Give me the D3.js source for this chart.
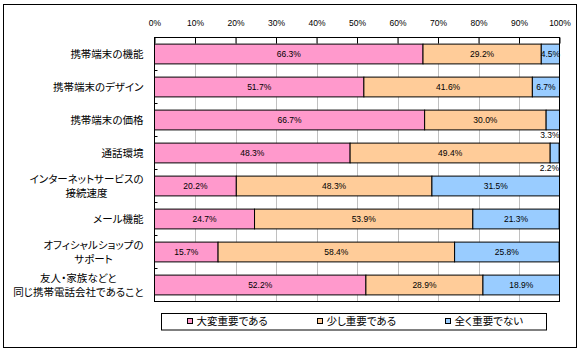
<!DOCTYPE html>
<html><head><meta charset="utf-8">
<script src="https://cdn.jsdelivr.net/npm/d3@7"></script>
<style>
body{margin:0;background:#fff;}
svg{display:block;}
.cjk{font-family:"Noto Sans CJK JP","Noto Sans",sans-serif;font-feature-settings:"palt";}
.num{font-family:"Liberation Sans",Arial,sans-serif;}
</style></head>
<body>
<svg id="c" width="584" height="354"></svg>
<script>
const categories = ["携帯端末の機能","携帯端末のデザイン","携帯端末の価格","通話環境","インターネットサービスの\n接続速度","メール機能","オフィシャルショップの\nサポート","友人・家族などと\n同じ携帯電話会社であること"];
const seriesNames = ["大変重要である","少し重要である","全く重要でない"];
const veryImportant = [66.3,51.7,66.7,48.3,20.2,24.7,15.7,52.2];
const somewhatImportant = [29.2,41.6,30.0,49.4,48.3,53.9,58.4,28.9];
const notImportant = [4.5,6.7,3.3,2.2,31.5,21.3,25.8,18.9];
const tickValues = [0,10,20,30,40,50,60,70,80,90,100];
const colors = ["#FF99CC","#FFCC99","#99CCFF"];

const svg = d3.select("#c");
svg.append("rect").attr("x",3.5).attr("y",4.5).attr("width",573).attr("height",343)
  .attr("fill","#fff").attr("stroke","#000").attr("stroke-width",1);

const x = d3.scaleLinear().domain([0,100]).range([154.5,559.5]);
const y = d3.scaleBand().domain(d3.range(categories.length)).range([37.5,301.5]).paddingInner(0.4).paddingOuter(0.2);

// gridlines
svg.append("g").selectAll("line").data(tickValues.slice(1,-1)).join("line")
  .attr("x1",d=>Math.round(x(d))+0.5).attr("x2",d=>Math.round(x(d))+0.5)
  .attr("y1",y.range()[0]).attr("y2",y.range()[1])
  .attr("stroke","#c0c0c0").attr("stroke-width",1);

// stacked data
const series = [veryImportant,somewhatImportant,notImportant];
const rows = categories.map((c,i)=>{const r={}; series.forEach((s,k)=>r[k]=s[i]); return r;});
const stack = d3.stack().keys([0,1,2])(rows);

const g = svg.append("g");
stack.forEach((layer,k)=>{
  g.selectAll(null).data(layer).join("rect")
    .attr("x",d=>x(d[0])).attr("width",d=>x(d[1])-x(d[0]))
    .attr("y",(d,i)=>y(i)).attr("height",y.bandwidth())
    .attr("fill",colors[k]).attr("stroke","#000").attr("stroke-width",1);
});

// value labels
stack.forEach((layer,k)=>{
  layer.forEach((d,i)=>{
    const v = series[k][i];
    const small = v < 4;
    svg.append("text").attr("class","num")
      .attr("x", small ? x(d[1]) : (x(d[0])+x(d[1]))/2)
      .attr("y", small ? y(i)+y.bandwidth()+5.5 : y(i)+y.bandwidth()/2)
      .attr("dy","0.35em")
      .attr("text-anchor", small ? "end" : "middle")
      .attr("font-size","8.5px").attr("fill","#000")
      .text(v.toFixed(1)+"%");
  });
});

// plot frame
svg.append("rect").attr("x",x(0)).attr("y",y.range()[0]).attr("width",x(100)-x(0))
  .attr("height",y.range()[1]-y.range()[0]).attr("fill","none").attr("stroke","#000").attr("stroke-width",1);

// top axis
const ax = svg.append("g").attr("transform",`translate(0,${y.range()[0]})`)
  .call(d3.axisTop(x).tickValues(tickValues).tickFormat(d=>d+"%").tickSizeInner(-6).tickSizeOuter(0).tickPadding(12));
ax.select(".domain").remove();
ax.selectAll("line").attr("stroke","#000");
ax.selectAll("text").attr("class","num").attr("font-size","8.5px").attr("font-family",null).attr("fill","#000");

// left ticks at band boundaries
svg.append("g").selectAll("line").data(d3.range(1,categories.length)).join("line")
  .attr("x1",x(0)).attr("x2",x(0)+3)
  .attr("y1",i=>y.range()[0]+i*y.step()).attr("y2",i=>y.range()[0]+i*y.step())
  .attr("stroke","#000");

// category labels
categories.forEach((c,i)=>{
  const lines = c.split("\n");
  const t = svg.append("text").attr("class","cjk").attr("font-size","10.5px").attr("fill","#000");
  const cy = y(i)+y.bandwidth()/2;
  const lh = 14;
  lines.forEach((l,j)=>{
    t.append("tspan").attr("y", cy + (j-(lines.length-1)/2)*lh).attr("dy","0.35em").text(l);
  });
  let maxW = 0;
  t.selectAll("tspan").each(function(){maxW=Math.max(maxW,this.getComputedTextLength());});
  t.attr("text-anchor","middle");
  t.selectAll("tspan").attr("x", 143.5 - maxW/2);
});

// legend
svg.append("rect").attr("x",161.5).attr("y",313.5).attr("width",385).attr("height",16.5)
  .attr("fill","#fff").attr("stroke","#000");
const legX = [187.5,317.5,445.5];
seriesNames.forEach((n,k)=>{
  svg.append("rect").attr("x",legX[k]).attr("y",318.5).attr("width",5).attr("height",5)
    .attr("fill",colors[k]).attr("stroke","#000");
  svg.append("text").attr("class","cjk").attr("x",legX[k]+9).attr("y",321.5).attr("dy","0.35em")
    .attr("font-size","10.5px").attr("fill","#000").text(n);
});
</script>
</body></html>
